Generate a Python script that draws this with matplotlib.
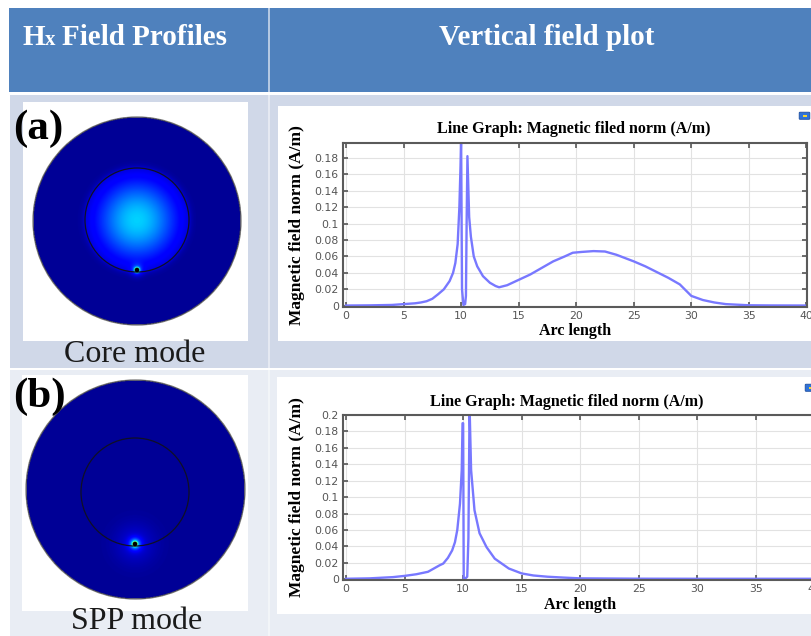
import numpy as np
import matplotlib
matplotlib.use("Agg")
import matplotlib.pyplot as plt
from matplotlib.patches import Rectangle, Circle, FancyBboxPatch
from matplotlib.ticker import FuncFormatter

W, H = 812, 636
SERIF = "Liberation Serif"

# ---- line graph data ----
arc_core = [0, 2, 4, 5, 6, 6.5, 7, 7.5, 8, 8.5, 9, 9.3, 9.5, 9.7, 9.85, 9.95, 10.0,
            10.08, 10.2, 10.35, 10.42, 10.48, 10.55, 10.7, 10.85, 11.1, 11.4, 11.9,
            12.5, 13, 13.3, 14, 15, 16, 17, 18, 19, 19.7, 20.5, 21.5, 22.5, 23.5, 25,
            26, 27, 28, 29, 30, 31, 32, 33, 35, 37, 40]
hnorm_core = [0.0003, 0.0005, 0.001, 0.002, 0.003, 0.004, 0.0055, 0.0085, 0.014, 0.02,
              0.03, 0.04, 0.052, 0.075, 0.12, 0.17, 0.205,
              0.02, 0.001, 0.002, 0.012, 0.10, 0.182, 0.108, 0.084, 0.06, 0.048, 0.036,
              0.028, 0.024, 0.0225, 0.025, 0.0315, 0.038, 0.046, 0.054, 0.06, 0.0645,
              0.0655, 0.0665, 0.066, 0.062, 0.054, 0.048, 0.041, 0.034, 0.026, 0.012,
              0.007, 0.004, 0.002, 0.0006, 0.0004, 0.0003]

arc_spp = [0, 2, 4, 5, 6, 7, 7.5, 8, 8.3, 8.7, 9.06, 9.3, 9.5, 9.73, 9.88, 9.95, 10.0,
           10.05, 10.2, 10.35, 10.45, 10.55, 10.68, 10.97, 11.4, 12.0, 12.7, 13.9, 15,
           16, 17.2, 18.5, 20, 25, 30, 35, 40]
hnorm_spp = [0.0005, 0.001, 0.0025, 0.004, 0.006, 0.009, 0.013, 0.017, 0.019, 0.026,
             0.035, 0.045, 0.06, 0.092, 0.133, 0.19, 0.19,
             0.0, 0.001, 0.003, 0.05, 0.21, 0.133, 0.084, 0.056, 0.039, 0.025, 0.013,
             0.007, 0.0045, 0.003, 0.002, 0.001, 0.0006, 0.0005, 0.0005, 0.0005]

x_ticks = [0, 5, 10, 15, 20, 25, 30, 35, 40]
y_ticks_core = [0, 0.02, 0.04, 0.06, 0.08, 0.1, 0.12, 0.14, 0.16, 0.18]
y_ticks_spp = [0, 0.02, 0.04, 0.06, 0.08, 0.1, 0.12, 0.14, 0.16, 0.18, 0.2]

mode_names = ["Core mode", "SPP mode"]
panel_tags = ["(a)", "(b)"]
graph_title = "Line Graph: Magnetic filed norm (A/m)"


def px_axes(fig, x0, y0, x1, y1):
    return fig.add_axes([x0 / W, 1 - y1 / H, (x1 - x0) / W, (y1 - y0) / H])


def draw_field(ax, cx, cy, R, inner_c, rin, spot, core_amp, glow):
    x = np.linspace(cx - R, cx + R, 440)
    y = np.linspace(cy - R, cy + R, 440)
    X, Y = np.meshgrid(x, y)
    r_out = np.hypot(X - cx, Y - cy)
    r_in = np.hypot(X - inner_c[0], Y - inner_c[1])
    v = np.full_like(X, 0.02)
    core = core_amp * np.exp(-(r_in / (0.8 * rin)) ** 2)
    core = np.where(r_in > rin, core * np.exp(-(r_in - rin) / 3.0), core)
    v = v + core
    d = np.hypot(X - spot[0], Y - spot[1])
    v = v + glow[0] * np.exp(-(d / 2.4) ** 2) + glow[1] * np.exp(-(d / 6.0) ** 2) \
        + glow[2] * np.exp(-(d / 20.0) ** 2)
    v = np.ma.masked_where(r_out > R, np.clip(v, 0, 1))
    ax.imshow(v, cmap="jet", vmin=0, vmax=1, extent=(cx - R, cx + R, cy + R, cy - R),
              interpolation="bilinear", zorder=3)
    ax.add_patch(Circle((cx, cy), R, fill=False, ec="#303030", lw=1.0, alpha=0.6, zorder=4))
    ax.add_patch(Circle(inner_c, rin, fill=False, ec="#101025", lw=0.9, zorder=4))
    ax.add_patch(Circle(spot, 1.6, color="black", zorder=5))


def draw_graph(fig, box, xlim, ylim, arc, hn, yticks, ylab_x, xlab_top):
    x0, y0, x1, y1 = box
    ax = px_axes(fig, x0, y0, x1, y1)
    ax.plot(arc, hn, color="#7878ff", lw=1.7)
    ax.set_xlim(*xlim)
    ax.set_ylim(*ylim)
    ax.set_xticks(x_ticks)
    ax.set_yticks(yticks)
    ax.yaxis.set_major_formatter(FuncFormatter(lambda v, p: f"{v:g}"))
    ax.grid(True, color="#e2e2e2", lw=0.8)
    ax.set_axisbelow(True)
    for s in ax.spines.values():
        s.set_color("#5a5a5a")
        s.set_linewidth(1.5)
    ax.tick_params(direction="in", top=True, right=True, length=3.5, width=1.2,
                   colors="#555555", labelsize=7.8, pad=3)
    aw, ah = x1 - x0, y1 - y0
    ax.set_ylabel("Magnetic field norm (A/m)", family=SERIF, fontweight="bold",
                  fontsize=12.5, color="black")
    ax.yaxis.set_label_coords((ylab_x - x0) / aw, 0.5)
    ax.set_xlabel("Arc length", family=SERIF, fontweight="bold", fontsize=11.5,
                  color="black")
    ax.xaxis.set_label_coords(((x0 + x1) / 2 - x0) / aw, -(xlab_top - y1) / ah)
    return ax


fig = plt.figure(figsize=(W / 100, H / 100), dpi=100)
bg = fig.add_axes([0, 0, 1, 1])
bg.axis("off")

# table background
bg.add_patch(Rectangle((9, 8), W - 9, 84, fc="#4f81bd", ec="none", zorder=1))
bg.add_patch(Rectangle((10, 95), W - 10, 273, fc="#d0d8e8", ec="none", zorder=1))
bg.add_patch(Rectangle((10, 370), W - 10, H - 370, fc="#e9edf4", ec="none", zorder=1))
bg.add_patch(Rectangle((268, 8), 2.5, 84, fc="#b4c8e2", ec="none", zorder=2))
bg.add_patch(Rectangle((268, 95), 2.5, H - 95, fc="white", alpha=0.45, ec="none", zorder=2))
bg.add_patch(Rectangle((10, 368), W - 10, 2, fc="white", alpha=0.5, ec="none", zorder=2))

# header text
hdr = dict(family=SERIF, fontweight="bold", color="white", va="baseline", zorder=6)
bg.text(23, 45, "H", fontsize=21, ha="left", **hdr)
bg.text(45, 45, "x", fontsize=15, ha="left", **hdr)
bg.text(62, 45, "Field Profiles", fontsize=21, ha="left", **hdr)
bg.text(547, 45, "Vertical field plot", fontsize=21, ha="center", **hdr)

# white panels
bg.add_patch(Rectangle((23, 102), 225, 239, fc="white", ec="none", zorder=2))
bg.add_patch(Rectangle((278, 106), W - 278, 235, fc="white", ec="none", zorder=2))
bg.add_patch(Rectangle((22, 375), 226, 236, fc="white", ec="none", zorder=2))
bg.add_patch(Rectangle((277, 377), W - 277, 237, fc="white", ec="none", zorder=2))

# field profiles
draw_field(bg, 137, 221, 104, (137, 220), 52, (137, 270), 0.31, (0.58, 0.12, 0.0))
draw_field(bg, 135.5, 489.5, 109.5, (135, 492), 54, (135, 544), 0.0, (0.55, 0.25, 0.06))

# panel tags and mode names
for tag, ty in zip(panel_tags, [129, 397]):
    bg.text(13, ty, tag, family=SERIF, fontweight="bold", fontsize=31, ha="left",
            va="center", color="black", zorder=7)
for name, nx, ny in zip(mode_names, [135, 137], [362, 629]):
    bg.text(nx, ny, name, family=SERIF, fontsize=23, ha="center", va="baseline",
            color="#1a1a1a", zorder=7)

# little COMSOL legend icons
for ix, iy in [(800, 113), (806, 385)]:
    bg.add_patch(FancyBboxPatch((ix, iy), 9, 5.5, boxstyle="round,pad=0.8",
                                fc="#2f72d8", ec="#1d4e9e", lw=0.6, zorder=6))
    bg.add_patch(Rectangle((ix + 3.5, iy + 1.5), 4, 2.5, fc="#f3d431", ec="none", zorder=7))

# graph titles
for tx, ty in [(574, 129), (567, 402)]:
    bg.text(tx, ty, graph_title, family=SERIF, fontweight="bold", fontsize=11.5,
            ha="center", va="center", color="black", zorder=6)

bg.set_xlim(0, W)
bg.set_ylim(H, 0)

draw_graph(fig, (343, 143, 807, 307), (-0.26, 40.05), (-0.0015, 0.198),
           arc_core, hnorm_core, y_ticks_core, 305, 323)
draw_graph(fig, (343, 415, 817, 580), (-0.26, 40.22), (-0.001, 0.2),
           arc_spp, hnorm_spp, y_ticks_spp, 305, 597)

fig.savefig("out.png", dpi=100)
